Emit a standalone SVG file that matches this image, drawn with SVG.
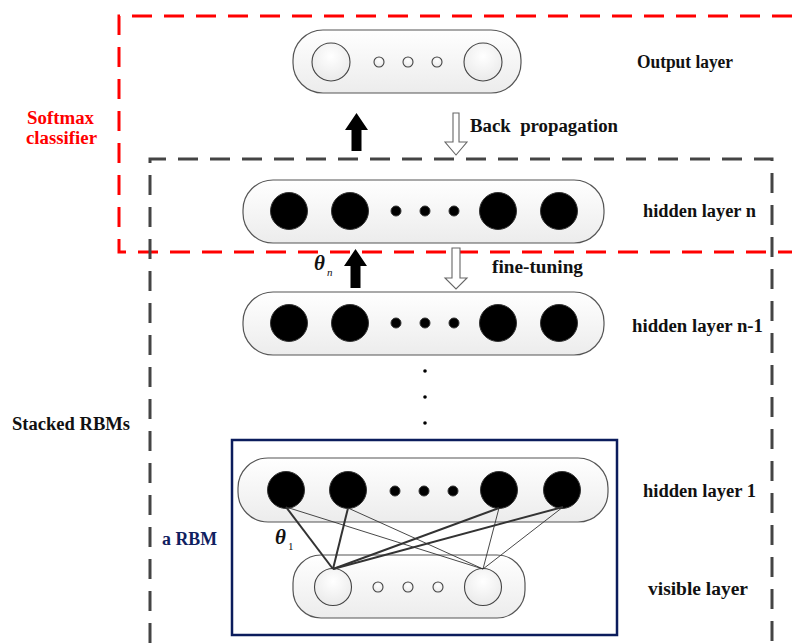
<svg xmlns="http://www.w3.org/2000/svg" width="792" height="643" viewBox="0 0 792 643">
<defs>
<linearGradient id="pillg" x1="0" y1="0" x2="0" y2="1">
<stop offset="0" stop-color="#ffffff"/>
<stop offset="1" stop-color="#ececec"/>
</linearGradient>
<radialGradient id="openg" cx="0.5" cy="0.35" r="0.7">
<stop offset="0" stop-color="#ffffff"/>
<stop offset="1" stop-color="#e8e8e8"/>
</radialGradient>
<style>
.pill{fill:url(#pillg);stroke:#555;stroke-width:1.2}
.open{fill:url(#openg);stroke:#444;stroke-width:1.1}
.full{fill:#000;stroke:#333;stroke-width:1}
.lbl{font-family:"Liberation Serif","DejaVu Serif",serif;font-weight:bold;font-size:18px;fill:#111}
.red{fill:#ff0000}
.navy{fill:#102060}
.theta{font-family:"Liberation Serif",serif;font-style:italic;font-weight:bold;font-size:21px;fill:#111}
.sub{font-family:"Liberation Serif",serif;font-style:italic;font-size:11px;fill:#111}
.subu{font-family:"Liberation Serif",serif;font-size:11px;fill:#111}
.thin{stroke:#333;stroke-width:0.9;fill:none}
.thick{stroke:#333;stroke-width:2;fill:none}
.harrow{fill:#fff;stroke:#666;stroke-width:1.1}
</style>
</defs>

<g id="frames">
<path d="M792,16 H119 V252 H792" fill="none" stroke="#ff0000" stroke-width="3" stroke-dasharray="20,12"/>
<path d="M150,643 V159 H772 V643" fill="none" stroke="#444" stroke-width="3" stroke-dasharray="20,12"/>
<rect x="232" y="440" width="385" height="195" fill="none" stroke="#0b1c5c" stroke-width="2.5"/>
</g>

<g id="output-layer">
<rect class="pill" x="293" y="30" width="228" height="63" rx="30"/>
<circle class="open" cx="331" cy="62" r="19"/>
<circle class="open" cx="379" cy="62" r="5"/>
<circle class="open" cx="408" cy="62" r="5"/>
<circle class="open" cx="437" cy="62" r="5"/>
<circle class="open" cx="483" cy="62" r="19"/>
</g>

<g id="hidden-layer-n">
<rect class="pill" x="243" y="180" width="361" height="63" rx="30"/>
<circle class="full" cx="289" cy="211" r="18.5"/>
<circle class="full" cx="350" cy="211" r="18.5"/>
<circle class="full" cx="396" cy="211" r="5"/>
<circle class="full" cx="425" cy="211" r="5"/>
<circle class="full" cx="454" cy="211" r="5"/>
<circle class="full" cx="498" cy="211" r="18.5"/>
<circle class="full" cx="559" cy="211" r="18.5"/>
</g>

<g id="hidden-layer-n-1">
<rect class="pill" x="243" y="292" width="361" height="63" rx="30"/>
<circle class="full" cx="289" cy="323" r="18.5"/>
<circle class="full" cx="350" cy="323" r="18.5"/>
<circle class="full" cx="396" cy="323" r="5"/>
<circle class="full" cx="425" cy="323" r="5"/>
<circle class="full" cx="454" cy="323" r="5"/>
<circle class="full" cx="498" cy="323" r="18.5"/>
<circle class="full" cx="559" cy="323" r="18.5"/>
</g>

<g id="vdots">
<circle cx="425" cy="371" r="1.8" fill="#000"/>
<circle cx="425" cy="397" r="1.8" fill="#000"/>
<circle cx="425" cy="423" r="1.8" fill="#000"/>
</g>

<g id="hidden-layer-1">
<rect class="pill" x="238" y="458" width="370" height="64" rx="30"/>
<circle class="full" cx="286" cy="490" r="18.5"/>
<circle class="full" cx="348" cy="490" r="18.5"/>
<circle class="full" cx="395" cy="491" r="5"/>
<circle class="full" cx="424" cy="491" r="5"/>
<circle class="full" cx="453" cy="491" r="5"/>
<circle class="full" cx="499" cy="490" r="18.5"/>
<circle class="full" cx="562" cy="490" r="18.5"/>
</g>

<g id="visible-layer">
<rect class="pill" x="293" y="555" width="232" height="63" rx="28"/>
<circle class="open" cx="333" cy="587" r="18.5"/>
<circle class="open" cx="378" cy="587" r="5"/>
<circle class="open" cx="408" cy="587" r="5"/>
<circle class="open" cx="438" cy="587" r="5"/>
<circle class="open" cx="483" cy="587" r="18.5"/>
</g>

<g id="connectors">
<line class="thick" x1="286" y1="507" x2="333" y2="569"/>
<line class="thick" x1="348" y1="508" x2="333" y2="569"/>
<line class="thick" x1="499" y1="508" x2="333" y2="569"/>
<line class="thick" x1="563" y1="507" x2="333" y2="569"/>
<line class="thin" x1="286" y1="507" x2="483" y2="569"/>
<line class="thin" x1="348" y1="508" x2="483" y2="569"/>
<line class="thin" x1="499" y1="508" x2="483" y2="569"/>
<line class="thin" x1="563" y1="507" x2="483" y2="569"/>
<polygon fill="#000" points="351.5,151 361.5,151 361.5,130 368,130 356.5,113 345,130 351.5,130"/>
<polygon fill="#000" points="350.5,288 360.5,288 360.5,266 367,266 355.5,249 344,266 350.5,266"/>
<polygon class="harrow" points="453,113 459,113 459,142 467,142 456,155 445,142 453,142"/>
<polygon class="harrow" points="452,248 460,248 460,278 467,278 456,289 445,278 452,278"/>
</g>

<g id="labels">
<text class="lbl" x="637" y="68" textLength="96" lengthAdjust="spacingAndGlyphs">Output layer</text>
<text class="lbl" x="470" y="132" xml:space="preserve" textLength="148" lengthAdjust="spacingAndGlyphs">Back  propagation</text>
<text class="lbl red" x="27" y="124" textLength="67" lengthAdjust="spacingAndGlyphs">Softmax</text>
<text class="lbl red" x="26" y="144" textLength="71" lengthAdjust="spacingAndGlyphs">classifier</text>
<text class="lbl" x="643" y="217" textLength="113" lengthAdjust="spacingAndGlyphs">hidden layer n</text>
<text class="lbl" x="492" y="273" textLength="91" lengthAdjust="spacingAndGlyphs">fine-tuning</text>
<text class="lbl" x="632" y="332" textLength="131" lengthAdjust="spacingAndGlyphs">hidden layer n-1</text>
<text class="lbl" x="12" y="430" textLength="118" lengthAdjust="spacingAndGlyphs">Stacked RBMs</text>
<text class="lbl navy" x="162" y="545" textLength="55" lengthAdjust="spacingAndGlyphs">a RBM</text>
<text class="lbl" x="643" y="497" textLength="113" lengthAdjust="spacingAndGlyphs">hidden layer 1</text>
<text class="lbl" x="648" y="595" textLength="100" lengthAdjust="spacingAndGlyphs">visible layer</text>
<text class="theta" x="314" y="270">θ</text><text class="sub" x="327" y="276">n</text>
<text class="theta" x="275" y="544">θ</text><text class="subu" x="288" y="550">1</text>
</g>
</svg>
